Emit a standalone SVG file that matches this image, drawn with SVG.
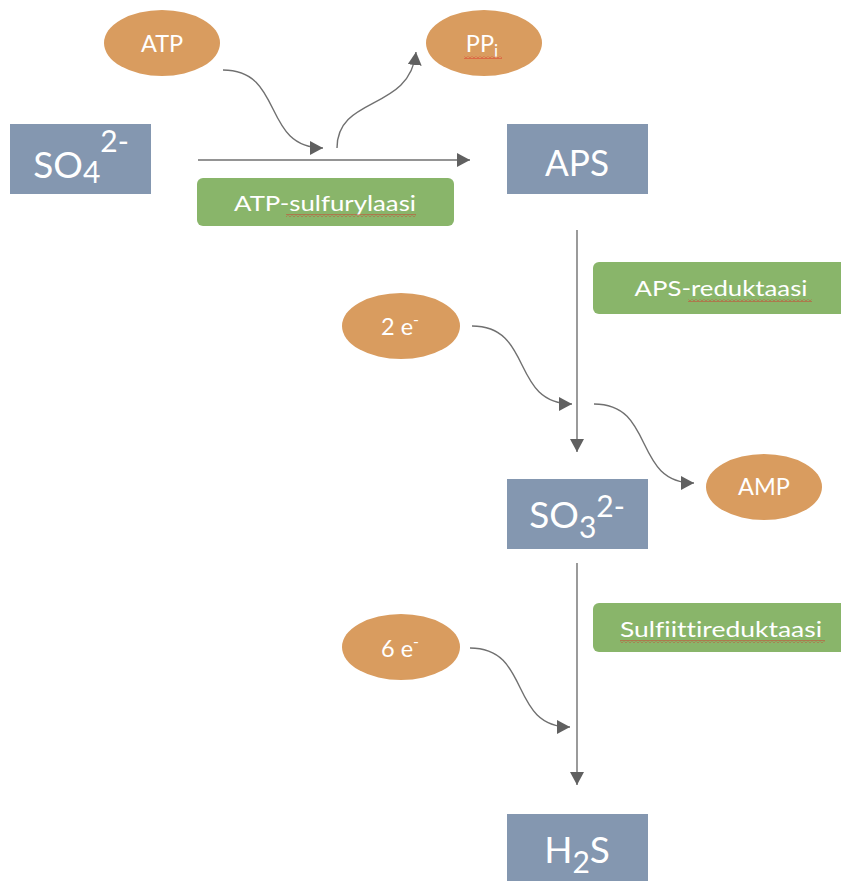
<svg xmlns="http://www.w3.org/2000/svg" width="841" height="881" viewBox="0 0 841 881">
<style>
.box{fill:#8497B0}
.oval{fill:#D99C5F}
.enz{fill:#89B56A}
text{font-variant-ligatures:none}
.big{font-family:Lato,"Open Sans",sans-serif;font-size:37px;fill:#fff}
.mid{font-family:Lato,"Open Sans",sans-serif;font-size:22px;fill:#fff}
.lbl{font-family:Lato,"Open Sans",sans-serif;font-size:23.5px;fill:#fff}
.conn{fill:none;stroke:#707070;stroke-width:1.4}
.sq{fill:url(#squig)}
</style>
<defs>
<marker id="ah" markerUnits="userSpaceOnUse" markerWidth="14" markerHeight="14" refX="13" refY="7" orient="auto">
<path d="M0,0 L13,7 L0,14 Z" fill="#606060"/>
</marker>
<pattern id="squig" patternUnits="userSpaceOnUse" width="4" height="3">
<path d="M0,2.5 L2,0.5 L4,2.5" fill="none" stroke="#E02020" stroke-width="0.8"/>
</pattern>
</defs>
<rect width="841" height="881" fill="#fff"/>

<g id="connectors">
<path class="conn" d="M198,160 L470,160" marker-end="url(#ah)"/>
<path class="conn" d="M223,70 C285,70 261,148 323,148" marker-end="url(#ah)"/>
<path class="conn" d="M337,148 C337,95 410,112 416,52" marker-end="url(#ah)"/>
<path class="conn" d="M577,230 L577,452" marker-end="url(#ah)"/>
<path class="conn" d="M472,326 C534,326 510,404 572,404" marker-end="url(#ah)"/>
<path class="conn" d="M594,404 C656,404 632,483 694,483" marker-end="url(#ah)"/>
<path class="conn" d="M577,563 L577,785" marker-end="url(#ah)"/>
<path class="conn" d="M470,648 C532,648 508,727 570,727" marker-end="url(#ah)"/>
</g>

<g id="so4">
<rect class="box" x="10" y="124" width="141" height="70"/>
<text class="big" x="81" y="178" text-anchor="middle">SO<tspan font-size="30" dy="5">4</tspan><tspan font-size="30" dy="-31">2-</tspan></text>
</g>

<g id="aps">
<rect class="box" x="507" y="124" width="141" height="70"/>
<text class="big" x="577" y="176" text-anchor="middle" textLength="64" lengthAdjust="spacingAndGlyphs">APS</text>
</g>

<g id="so3">
<rect class="box" x="507" y="479" width="141" height="70"/>
<text class="big" x="577" y="528" text-anchor="middle">SO<tspan font-size="30" dy="10">3</tspan><tspan font-size="30" dy="-21">2-</tspan></text>
</g>

<g id="h2s">
<rect class="box" x="507" y="814" width="141" height="67"/>
<text class="big" x="577" y="863" text-anchor="middle">H<tspan font-size="30" dy="10">2</tspan><tspan dy="-10">S</tspan></text>
</g>

<g id="atp">
<ellipse class="oval" cx="162" cy="43" rx="58" ry="33"/>
<text class="lbl" x="162" y="52" text-anchor="middle">ATP</text>
</g>

<g id="ppi">
<ellipse class="oval" cx="484" cy="43" rx="58" ry="33"/>
<text class="lbl" x="482" y="52" text-anchor="middle">PP<tspan font-size="17" dy="5">i</tspan></text>
<rect class="sq" x="464" y="56" width="38" height="3"/>
</g>

<g id="atp-sulfurylaasi">
<rect class="enz" x="197" y="178" width="257" height="48" rx="6"/>
<text class="mid" x="325" y="211" text-anchor="middle" textLength="182" lengthAdjust="spacingAndGlyphs">ATP-sulfurylaasi</text>
<rect class="sq" x="286" y="214" width="130" height="3"/>
</g>

<g id="aps-reduktaasi">
<rect class="enz" x="593" y="262" width="260" height="52" rx="6"/>
<text class="mid" x="721" y="296" text-anchor="middle" textLength="173" lengthAdjust="spacingAndGlyphs">APS-reduktaasi</text>
<rect class="sq" x="688" y="299" width="124" height="3"/>
</g>

<g id="e2">
<ellipse class="oval" cx="401" cy="326" rx="59" ry="33"/>
<text class="lbl" x="400" y="335" text-anchor="middle">2 e<tspan font-size="16" dy="-10">-</tspan></text>
</g>

<g id="amp">
<ellipse class="oval" cx="764" cy="487" rx="58" ry="33"/>
<text class="lbl" x="764" y="495" text-anchor="middle">AMP</text>
</g>

<g id="sulfiittireduktaasi">
<rect class="enz" x="593" y="603" width="260" height="49" rx="6"/>
<text class="mid" x="721" y="637" text-anchor="middle" textLength="202" lengthAdjust="spacingAndGlyphs">Sulfiittireduktaasi</text>
<rect class="sq" x="620" y="640" width="205" height="3"/>
</g>

<g id="e6">
<ellipse class="oval" cx="401" cy="647" rx="59" ry="33"/>
<text class="lbl" x="400" y="657" text-anchor="middle">6 e<tspan font-size="16" dy="-10">-</tspan></text>
</g>
</svg>
